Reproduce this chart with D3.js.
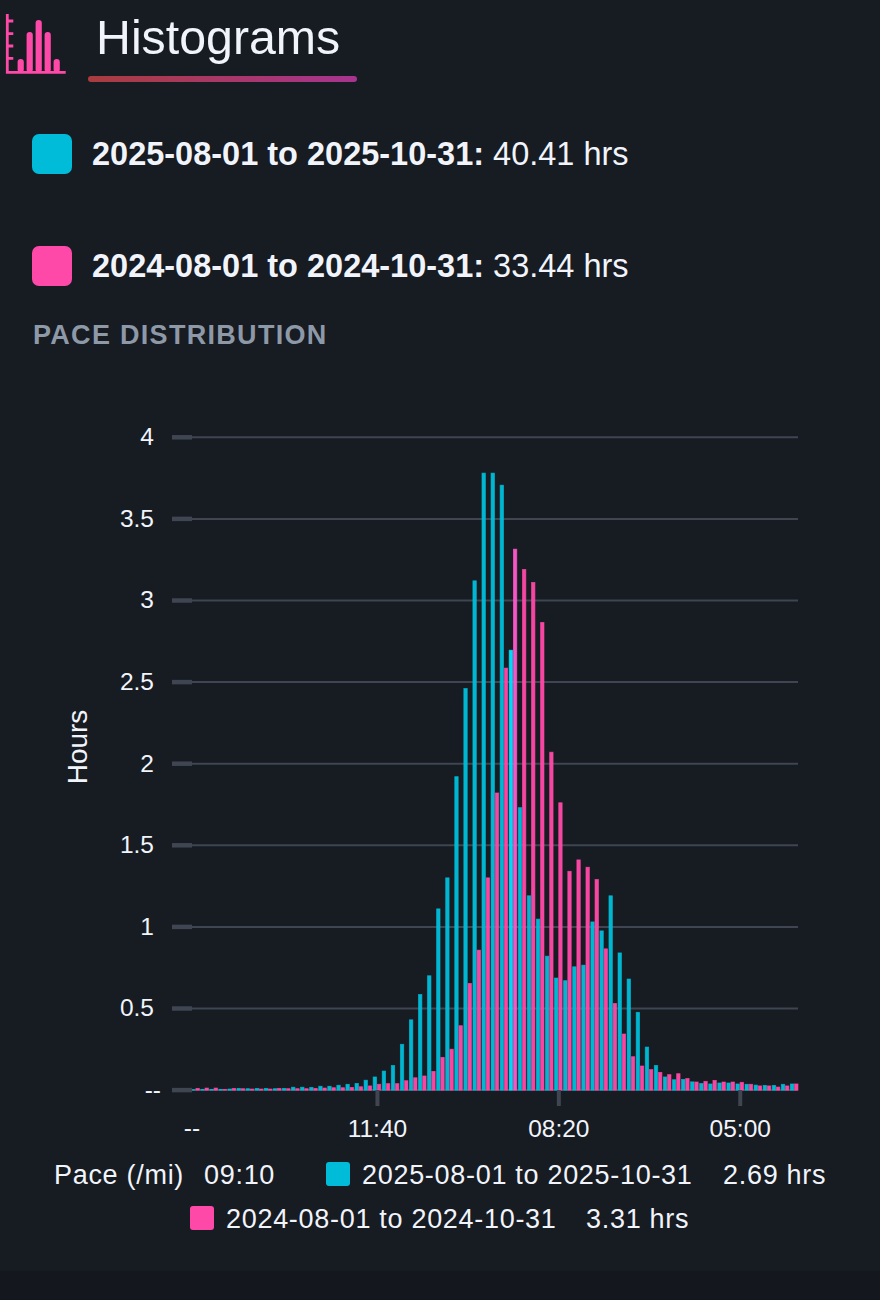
<!DOCTYPE html>
<html><head><meta charset="utf-8">
<script src="https://cdnjs.cloudflare.com/ajax/libs/d3/7.8.5/d3.min.js"></script>
<style>
html,body{margin:0;padding:0;background:#171b22;}
svg{display:block;}
text{font-family:"Liberation Sans",Arial,sans-serif;}
</style></head><body><div id="chart"></div>
<script>
const title = "Histograms";
const sectionTitle = "PACE DISTRIBUTION";
const seriesNames = ["2025-08-01 to 2025-10-31", "2024-08-01 to 2024-10-31"];
const seriesTotals = ["40.41 hrs", "33.44 hrs"];
const seriesColors = ["#00bcd8", "#ff49a8"];
const highlightColors = ["#00e2ff", "#ff58cb"];
const highlightIndex = 35;
const tooltipPace = "09:10";
const tooltipValues = ["2.69 hrs", "3.31 hrs"];
const yTicks = [0, 0.5, 1, 1.5, 2, 2.5, 3, 3.5, 4];
const xTickBins = [20, 40, 60];
const xTickLabels = ["11:40", "08:20", "05:00"];
const currentHours = [
 .002,.004,.004,.004,.006,.01,.008,.01,.01,.008,.01,.017,.017,.016,.023,.023,.029,.035,.04,.06,
 .08,.116,.15,.28,.43,.585,.70,1.11,1.30,1.92,2.46,3.12,3.78,3.78,3.706,2.695,1.73,1.19,1.047,.82,
 .686,.67,.755,.765,1.03,.975,1.19,.84,.68,.476,.263,.15,.08,.063,.065,.05,.04,.037,.043,.043,
 .037,.035,.03,.028,.028,.035,.037];
const previousHours = [
 .01,.012,.012,.004,.01,.008,.006,.006,.006,.01,.008,.008,.008,.01,.012,.014,.014,.016,.02,.025,
 .035,.039,.039,.057,.075,.086,.114,.2,.25,.394,.653,.857,1.30,1.82,2.585,3.314,3.19,3.11,2.865,2.07,
 1.76,1.34,1.41,1.365,1.29,.865,.53,.343,.204,.147,.125,.108,.094,.10,.07,.049,.053,.059,.049,.049,
 .047,.035,.025,.025,.018,.025,.037];

const W = 880, H = 1300;
const svg = d3.select("#chart").append("svg").attr("width", W).attr("height", H);
const defs = svg.append("defs");
const grad = defs.append("linearGradient").attr("id", "ul");
grad.append("stop").attr("offset", "0%").attr("stop-color", "#a83c3e");
grad.append("stop").attr("offset", "100%").attr("stop-color", "#a83490");

svg.append("rect").attr("width", W).attr("height", H).attr("fill", "#171b22");
svg.append("rect").attr("y", 1271).attr("width", W).attr("height", 29).attr("fill", "#14171d");

// icon
const icon = svg.append("g").attr("stroke", "#ff49a8").attr("fill", "none");
icon.append("path").attr("stroke-width", 2.8).attr("d", "M7.3 14V72.3H65.7M7.3 21H13.3M7.3 33.7H13.3M7.3 46H13.3M7.3 58.3H13.3");
icon.append("g").attr("stroke-width", 6.2).attr("stroke-linecap", "round")
  .selectAll("path").data([[20.7,62],[29.7,35],[38.7,23],[47.7,35],[56.7,62]]).join("path")
  .attr("d", d => `M${d[0]} 69.5V${d[1]}`);

svg.append("text").attr("x", 96).attr("y", 54).attr("font-size", 48.3).attr("fill", "#f1f4fb").text(title);
svg.append("rect").attr("x", 88).attr("y", 76).attr("width", 269).attr("height", 6).attr("rx", 3).attr("fill", "url(#ul)");

// summary legend
[154, 266].forEach((cy, i) => {
  svg.append("rect").attr("x", 32).attr("y", cy - 20).attr("width", 40).attr("height", 40).attr("rx", 7).attr("fill", seriesColors[i]);
  const t = svg.append("text").attr("x", 92).attr("y", cy + 11).attr("font-size", 32.5).attr("fill", "#f1f4fb");
  t.append("tspan").attr("font-weight", 700).text(seriesNames[i] + ": ");
  t.append("tspan").text(seriesTotals[i]);
});
svg.append("text").attr("x", 33).attr("y", 344).attr("font-size", 27).attr("font-weight", 700)
  .attr("letter-spacing", 1.3).attr("fill", "#8e99a8").text(sectionTitle);

// chart
const bins = d3.range(currentHours.length);
const x = d3.scaleBand().domain(bins).range([191, 798.7]).paddingInner(0).paddingOuter(0);
const y = d3.scaleLinear().domain([0, 4]).range([1089.6, 436.8]);
const barW = 4.2;
const grid = "#3f4652";

const gridG = svg.append("g").attr("transform", "translate(192,0)")
  .call(d3.axisLeft(y).tickValues(yTicks).tickSize(0).tickPadding(0).tickFormat(""));
gridG.select(".domain").remove();
gridG.selectAll(".tick line").attr("x1", 0).attr("x2", 606).attr("stroke", grid).attr("stroke-width", 2);

const bars = svg.append("g");
[currentHours, previousHours].forEach((vals, s) => {
  bars.append("g").selectAll("rect").data(vals).join("rect")
    .attr("x", (d, i) => x(i) + x.bandwidth() / 2 + (s === 0 ? -barW : 0) + 0.4)
    .attr("y", d => y(d) + 0.4)
    .attr("width", barW - 0.8)
    .attr("height", d => Math.max(0, y(0) - y(d) + 0.2))
    .attr("fill", (d, i) => i === highlightIndex ? highlightColors[s] : seriesColors[s])
    .attr("fill-opacity", 0.96)
    .attr("stroke", (d, i) => i === highlightIndex ? highlightColors[s] : seriesColors[s])
    .attr("stroke-opacity", 0.75)
    .attr("stroke-width", 0.8);
});

const yAxis = svg.append("g").attr("transform", "translate(192,0)")
  .call(d3.axisLeft(y).tickValues(yTicks).tickSize(20).tickPadding(18)
    .tickFormat(d => d === 0 ? "--" : d3.format("~g")(d)));
yAxis.select(".domain").remove();
yAxis.selectAll(".tick line").attr("stroke", grid).attr("stroke-width", 4.5);
yAxis.selectAll(".tick text").attr("fill", "#f1f4fb").attr("font-size", 24.5).style("font-family", '"Liberation Sans"')
  .attr("dx", d => d === 0 ? 7 : 0);

const xAxis = svg.append("g").attr("transform", "translate(0,1090)")
  .call(d3.axisBottom(d3.scaleOrdinal().domain(xTickBins).range(xTickBins.map(b => x(b) + x.bandwidth() / 2)))
    .tickValues(xTickBins).tickSize(16).tickPadding(14).tickFormat((d, i) => xTickLabels[i]));
xAxis.select(".domain").remove();
xAxis.selectAll(".tick line").attr("stroke", grid).attr("stroke-width", 4);
xAxis.selectAll(".tick text").attr("fill", "#f1f4fb").attr("font-size", 24.5).style("font-family", '"Liberation Sans"');
svg.append("text").attr("x", 192).attr("y", 1136).attr("text-anchor", "middle").attr("font-size", 24.5).attr("fill", "#f1f4fb").text("--");

svg.append("text").attr("transform", "translate(87,747) rotate(-90)").attr("text-anchor", "middle").attr("font-size", 28).attr("fill", "#f1f4fb").text("Hours");

// hover legend
const hl = svg.append("g").attr("font-size", 27).attr("letter-spacing", 0.7).attr("fill", "#f1f4fb");
hl.append("text").attr("x", 54).attr("y", 1184).text("Pace (/mi)");
hl.append("text").attr("x", 204).attr("y", 1184).text(tooltipPace);
[[326, 362, 723, 1174], [190, 226, 586, 1218]].forEach((p, i) => {
  hl.append("rect").attr("x", p[0]).attr("y", p[3] - 12).attr("width", 24).attr("height", 24).attr("rx", 3).attr("fill", seriesColors[i]);
  hl.append("text").attr("x", p[1]).attr("y", p[3] + 10).text(seriesNames[i]);
  hl.append("text").attr("x", p[2]).attr("y", p[3] + 10).text(tooltipValues[i]);
});
</script></body></html>
